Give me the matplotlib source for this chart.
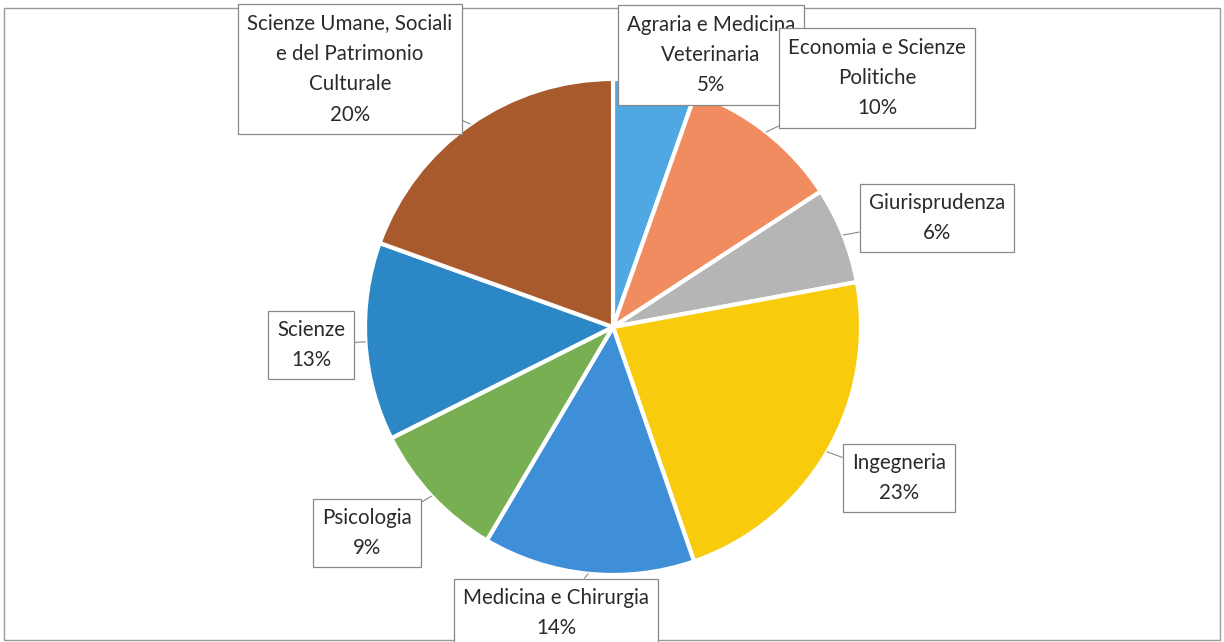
import numpy as np
import matplotlib.pyplot as plt
from matplotlib.patches import Rectangle

labels = ["Agraria e Medicina\nVeterinaria", "Economia e Scienze\nPolitiche", "Giurisprudenza",
          "Ingegneria", "Medicina e Chirurgia", "Psicologia", "Scienze",
          "Scienze Umane, Sociali\ne del Patrimonio\nCulturale"]
values = [5.4, 10.4, 6.3, 22.6, 13.8, 9.1, 12.9, 19.5]
colors = ["#4FA8E2", "#F18C60", "#B5B5B5", "#F8CB0C", "#3F8FD8", "#78AF52", "#2C87C6", "#A95A2C"]

# label box centres (pixels, y from top)
label_pos = [(711, 55), (877, 78), (937, 218), (899, 478), (556, 613), (367, 533), (311, 345), (350, 69)]

W, H = 1224, 642
cx, cy, r = 613, H - 327, 248

plt.rcParams['font.family'] = ['Lato', 'DejaVu Sans']
fig = plt.figure(figsize=(W / 100, H / 100), dpi=100)
ax = fig.add_axes([0, 0, 1, 1])

wedges, _ = ax.pie(values, colors=colors, center=(cx, cy), radius=r, startangle=90,
                   counterclock=False, frame=True,
                   wedgeprops=dict(edgecolor="white", linewidth=3))
ax.set_xlim(0, W)
ax.set_ylim(0, H)
ax.set_aspect("equal")
ax.axis("off")

# outer frame
ax.add_patch(Rectangle((4, 2), W - 8, H - 10, fill=False, edgecolor="#999999", lw=1))

total = sum(values)
for w, lab, v, (lx, ly) in zip(wedges, labels, values, label_pos):
    ang = np.deg2rad((w.theta1 + w.theta2) / 2)
    ex, ey = cx + r * np.cos(ang), cy + r * np.sin(ang)
    ty = H - ly
    ax.annotate(f"{lab}\n{100 * v / total:.0f}%", xy=(ex, ey), xytext=(lx, ty),
                ha="center", va="center", fontsize=14.8, color="#2a2a2a",
                linespacing=1.65,
                bbox=dict(boxstyle="square,pad=0.45", fc="white", ec="#888888", lw=0.9),
                arrowprops=dict(arrowstyle="-", color="#888888", lw=0.8,
                                shrinkA=0, shrinkB=0))

fig.savefig("out.png", dpi=100)
